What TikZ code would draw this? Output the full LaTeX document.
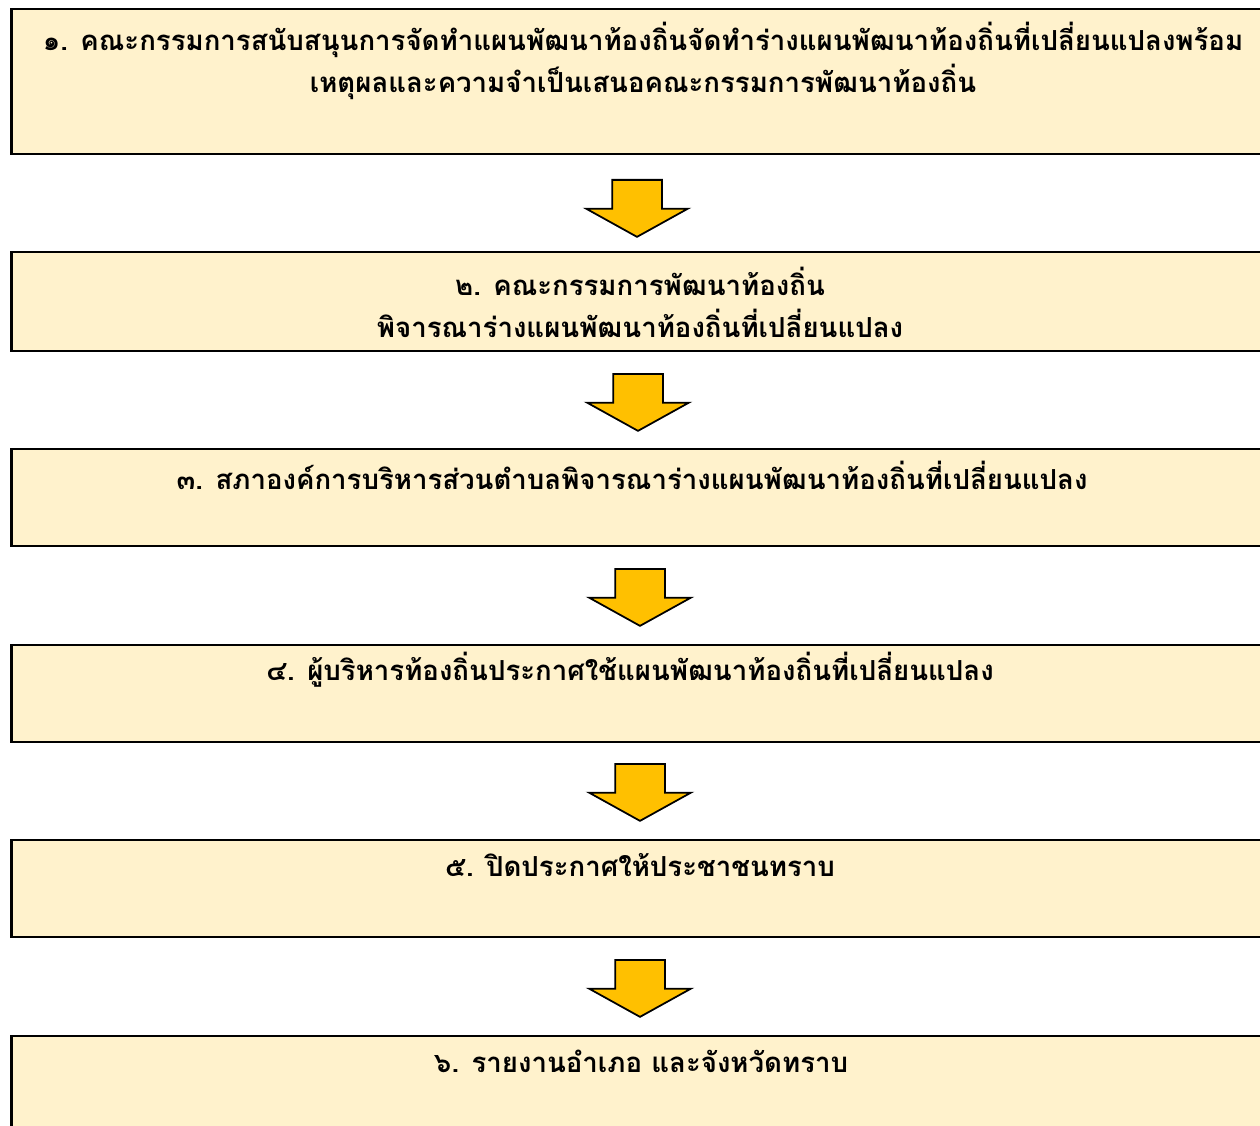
\documentclass[tikz,border=0pt]{standalone}
\usepackage{fontspec}
\newfontfamily\thaifont[Script=Thai]{Loma}
\usepackage{xcolor}
\usepackage{tikz}
\usetikzlibrary{shapes,shapes.arrows,calc}

\definecolor{boxfill}{HTML}{FFF2CC}
\definecolor{arrowfill}{HTML}{FFC000}

\begin{document}
\begin{tikzpicture}[x=0.02cm,y=-0.02cm]
        % Define the styles for the step boxes, their texts and the arrows
        \tikzstyle{stepbox}=[draw=black, line width=1.6pt, fill=boxfill, rectangle, minimum width=25.16cm, inner sep=0pt];
        \tikzstyle{steptext}=[font=\thaifont\bfseries\fontsize{15.7}{24}\selectfont, align=center, text=black, inner sep=0pt];
        \tikzstyle{downarrow}=[draw=black, line width=1pt, fill=arrowfill, single arrow, rotate=-90, anchor=tail,
            minimum height=1.14cm, minimum width=0pt, inner xsep=0pt, inner ysep=0.48cm,
            single arrow head extend=0.52cm, single arrow tip angle=122];

        % Fix the frame of the picture
        \useasboundingbox (0,0) rectangle (1260,1125);
        \clip (0,0) rectangle (1260,1125);

        % Draw the step boxes
        \node[stepbox, minimum height=2.9cm]  (b1) at (640,81.5)  {};
        \node[stepbox, minimum height=1.98cm] (b2) at (640,301.5) {};
        \node[stepbox, minimum height=1.94cm] (b3) at (640,497.5) {};
        \node[stepbox, minimum height=1.94cm] (b4) at (640,693.5) {};
        \node[stepbox, minimum height=1.94cm] (b5) at (640,888.5) {};
        \node[stepbox, minimum height=1.94cm] (b6) at (640,1084.5) {};

        % Put the texts near the top of each box
        \node[steptext] (t1) at (643,61) {๑. คณะกรรมการสนับสนุนการจัดทำแผนพัฒนาท้องถิ่นจัดทำร่างแผนพัฒนาท้องถิ่นที่เปลี่ยนแปลงพร้อม\\เหตุผลและความจำเป็นเสนอคณะกรรมการพัฒนาท้องถิ่น};
        \node[steptext] (t2) at (640,302) {๒. คณะกรรมการพัฒนาท้องถิ่น\\พิจารณาร่างแผนพัฒนาท้องถิ่นที่เปลี่ยนแปลง};
        \node[steptext] (t3) at (632,475) {๓. สภาองค์การบริหารส่วนตำบลพิจารณาร่างแผนพัฒนาท้องถิ่นที่เปลี่ยนแปลง};
        \node[steptext] (t4) at (630,670) {๔. ผู้บริหารท้องถิ่นประกาศใช้แผนพัฒนาท้องถิ่นที่เปลี่ยนแปลง};
        \node[steptext] (t5) at (640,865) {๕. ปิดประกาศให้ประชาชนทราบ};
        \node[steptext] (t6) at (641,1061) {๖. รายงานอำเภอ และจังหวัดทราบ};

        % Block arrows between the boxes
        \node[downarrow] (a1) at (637,179) {};
        \node[downarrow] (a2) at (638,373) {};
        \node[downarrow] (a3) at (640,568) {};
        \node[downarrow] (a4) at (640,763) {};
        \node[downarrow] (a5) at (640,959) {};
    \end{tikzpicture}
\end{document}
